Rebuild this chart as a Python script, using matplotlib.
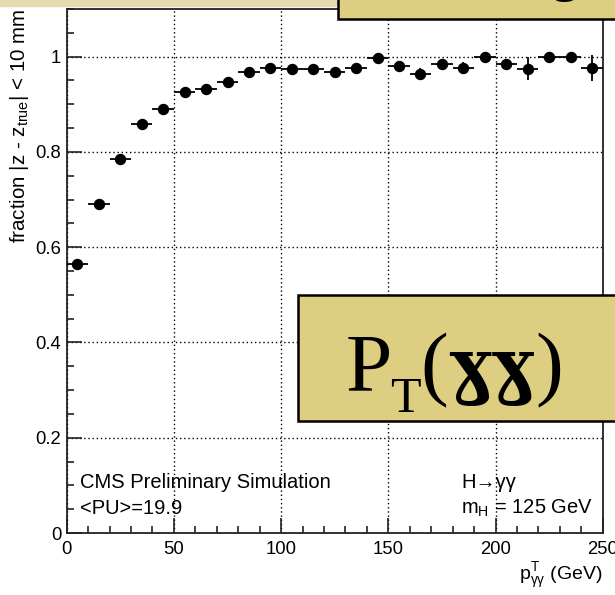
import numpy as np
import matplotlib.pyplot as plt
from matplotlib.patches import Rectangle
from matplotlib.ticker import MultipleLocator

plt.rcParams['font.family'] = ['Liberation Sans', 'DejaVu Sans']
plt.rcParams['mathtext.fontset'] = 'custom'
plt.rcParams['mathtext.rm'] = 'Liberation Sans'
plt.rcParams['mathtext.it'] = 'Liberation Sans:italic'

# fraction of events with |z - z_true| < 10 mm, per 10 GeV bin of pT(gg)
pt = [5, 15, 25, 35, 45, 55, 65, 75, 85, 95, 105, 115, 125,
      135, 145, 155, 165, 175, 185, 195, 205, 215, 225, 235, 245]
frac = [0.565, 0.691, 0.786, 0.859, 0.890, 0.925, 0.933, 0.946, 0.967,
        0.976, 0.973, 0.973, 0.967, 0.976, 0.998, 0.980, 0.964, 0.985,
        0.976, 1.000, 0.985, 0.975, 1.000, 1.000, 0.976]
err_lo = [0.006, 0.006, 0.006, 0.006, 0.006, 0.005, 0.005, 0.005, 0.005,
          0.005, 0.005, 0.006, 0.006, 0.006, 0.006, 0.008, 0.013, 0.011,
          0.013, 0.010, 0.010, 0.025, 0.010, 0.010, 0.028]
err_hi = [0.006, 0.006, 0.006, 0.006, 0.006, 0.005, 0.005, 0.005, 0.005,
          0.005, 0.005, 0.006, 0.006, 0.006, 0.002, 0.008, 0.013, 0.011,
          0.013, 0.000, 0.010, 0.025, 0.000, 0.000, 0.027]
bin_half = 5

fig = plt.figure(figsize=(6.15, 5.95), dpi=100)
ax = fig.add_axes([0.1085, 0.1042, 0.8715, 0.8807])

ax.errorbar(pt, frac, yerr=[err_lo, err_hi], xerr=bin_half, fmt='o',
            color='black', ms=7.2, elinewidth=1.3, capsize=0, zorder=3)

ax.set_xlim(0, 250)
ax.set_ylim(0, 1.1)
ax.xaxis.set_major_locator(MultipleLocator(50))
ax.xaxis.set_minor_locator(MultipleLocator(10))
ax.yaxis.set_minor_locator(MultipleLocator(0.05))
ax.set_yticks([0, 0.2, 0.4, 0.6, 0.8, 1.0])
ax.set_yticklabels(['0', '0.2', '0.4', '0.6', '0.8', '1'])
ax.tick_params(which='both', direction='in', labelsize=13.3, width=1.2,
               color='#222222')
ax.tick_params(which='major', length=11)
ax.tick_params(which='minor', length=5)
ax.tick_params(axis='x', pad=6)
ax.tick_params(axis='y', pad=4)
for s in ax.spines.values():
    s.set_linewidth(1.3)
    s.set_color('#222222')

ax.grid(True, which='major', linestyle=(0, (1, 2)), color='black', lw=1.0)

ax.set_ylabel(r'fraction |z - z$_{\mathrm{true}}$| < 10 mm', fontsize=14.8,
              loc='top', labelpad=3)
ax.set_xlabel('p$^{\\mathrm{T}}_{\\mathrm{γγ}}$ (GeV)', fontsize=14,
              loc='right', labelpad=2)

ax.text(6, 0.095, 'CMS Preliminary Simulation', fontsize=14.5)
ax.text(6, 0.04, '<PU>=19.9', fontsize=14.5)
ax.text(184, 0.095, 'H→γγ', fontsize=14.5)
ax.text(184, 0.04, r'm$_{\mathrm{H}}$ = 125 GeV', fontsize=14.5)

# slide decorations around the plot
khaki = '#DECE82'
serif = ['Liberation Serif', 'DejaVu Serif']
fig.patches.append(Rectangle((0, 1 - 6 / 595), 1, 6 / 595,
                             transform=fig.transFigure, color='#E8DAB0',
                             zorder=0))
fig.patches.append(Rectangle((338 / 615, 1 - 19 / 595), 0.5, 0.1,
                             transform=fig.transFigure, facecolor=khaki,
                             edgecolor='black', lw=1.8, zorder=5))
fig.text(580 / 615, 1 + 10 / 595, 'ing', fontsize=40, ha='right',
         va='baseline', family=serif, zorder=6)
fig.patches.append(Rectangle((298 / 615, 1 - 421 / 595), 0.6, 126 / 595,
                             transform=fig.transFigure, facecolor=khaki,
                             edgecolor='black', lw=1.8, zorder=5))

# big label built from pieces: P_T( regular, gammas bold, ) regular
base_y = 1 - 390 / 595
t1 = fig.text(346 / 615, base_y, 'P', fontsize=60, va='baseline',
              family=serif, zorder=6)
fig.canvas.draw()
r = fig.canvas.get_renderer()
x = t1.get_window_extent(r).x1 / fig.bbox.width
t2 = fig.text(x - 0.004, base_y - 22 / 595, 'T', fontsize=36,
              va='baseline', family=serif, zorder=6)
x = t2.get_window_extent(r).x1 / fig.bbox.width
t3 = fig.text(x, base_y, '(', fontsize=60, va='baseline', family=serif,
              zorder=6)
x = t3.get_window_extent(r).x1 / fig.bbox.width
t4 = fig.text(x, base_y, 'ɣɣ', fontsize=52, va='baseline',
              family=['DejaVu Serif'], weight='bold', zorder=6)
x = t4.get_window_extent(r).x1 / fig.bbox.width
fig.text(x, base_y, ')', fontsize=60, va='baseline', family=serif, zorder=6)

fig.savefig('out.png', dpi=100)
